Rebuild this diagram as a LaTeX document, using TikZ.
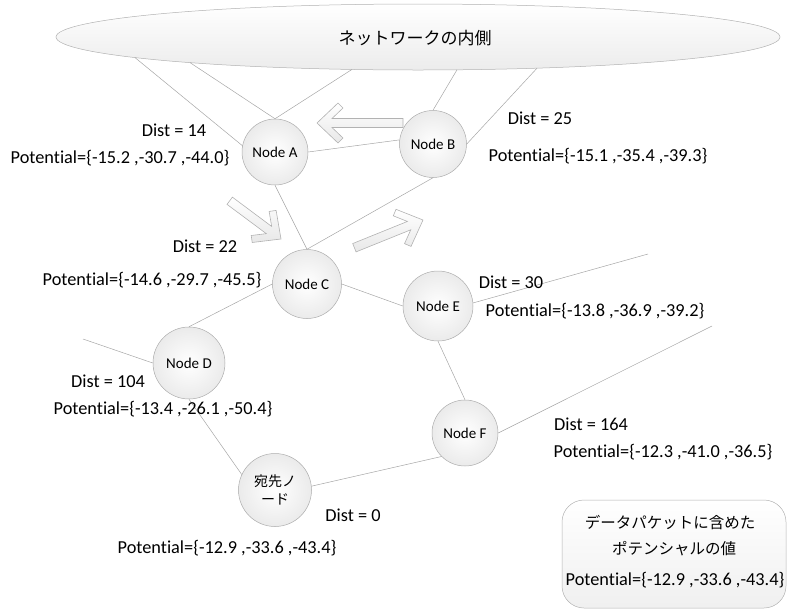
\documentclass[tikz,border=0pt]{standalone}
\usepackage{fontspec}
\setmainfont{Carlito}[Ligatures=NoCommon]
\newfontfamily\jp{Noto Sans CJK JP}
\usetikzlibrary{shapes.geometric}
\begin{document}
\begin{tikzpicture}[x=1pt,y=-1pt,
  nd/.style={circle, draw=gray!65, line width=0.5pt, inner color=white, outer color=gray!16,
    font=\fontsize{15}{17}\selectfont, inner sep=0pt, minimum size=68pt},
  link/.style={draw=gray!70, line width=0.5pt},
  lbl/.style={font=\fontsize{18.3}{21}\selectfont, inner sep=0pt},
  blk/.style={draw=gray!60, line width=0.6pt, top color=white, bottom color=gray!18, line join=miter},
  pics/barrow/.style={code={
    \path[blk] (0,0) -- (-21,20) -- (-26,15) -- (-15,4.5) -- (-#1,4.5) -- (-#1,-4.5)
      -- (-15,-4.5) -- (-26,-15) -- (-21,-20) -- cycle;}}
]
\useasboundingbox (0,0) rectangle (790,611);

% network ellipse
\node[ellipse, draw=gray!60, line width=0.5pt, top color=white, bottom color=gray!15,
  minimum width=724pt, minimum height=66pt, inner sep=0pt] (net) at (418,37) {};
\node[font=\jp\fontsize{17}{20}\selectfont, inner sep=0pt] (nettext) at (415,38) {ネットワークの内側};

\coordinate (e1) at (135,57.6);
\coordinate (e2) at (190,62.6);
\coordinate (e3) at (352,69.4);
\coordinate (e4) at (457,69.8);
\coordinate (e5) at (537,68.2);

% nodes
\node[nd, minimum size=66pt] (A) at (275,152) {Node A};
\node[nd, minimum size=67pt] (B) at (433,144) {Node B};
\node[nd, minimum size=69pt] (C) at (307,284) {Node C};
\node[nd, minimum size=72pt] (D) at (189,363) {Node D};
\node[nd, minimum size=70pt] (E) at (438,306) {Node E};
\node[nd, minimum size=66pt] (F) at (465,433) {Node F};
\node[nd, minimum size=73pt, align=center, font=\jp\fontsize{14}{18}\selectfont] (dest) at (275,490) {宛先ノ\\ード};

\coordinate (dfree) at (83,339);
\coordinate (efree) at (648,254);
\coordinate (ffree) at (712,326);

% links
\draw[link] (e1) -- (A.169);
\draw[link] (e2) -- (A.north);
\draw[link] (e3) -- (A.north);
\draw[link] (e4) -- (B.north);
\draw[link] (e5) -- (B.east);
\draw[link] (A.east) -- (B.173);
\draw[link] (A.south) -- (C.north);
\draw[link] (B.south) -- (C.north);
\draw[link] (C.east) -- (E.west);
\draw[link] (C.west) -- (D.north);
\draw[link] (dfree) -- (D.west);
\draw[link] (D.south) -- (dest.155);
\draw[link] (dest.6) -- (F.225);
\draw[link] (E.south) -- (F.north);
\draw[link] (E.5) -- (efree);
\draw[link] (F.east) -- (ffree);

% block arrows
\pic[rotate=180] at (317,123) {barrow=86};
\pic[rotate=-36.7] at (281,239) {barrow=64};
\pic[rotate=22] at (423,220) {barrow=74};

% labels
\node[lbl] (dA) at (174,130) {Dist = 14};
\node[lbl] (pA) at (120,158) {Potential=\{-15.2 ,-30.7 ,-44.0\}};
\node[lbl] (dB) at (540,118) {Dist = 25};
\node[lbl] (pB) at (598,156) {Potential=\{-15.1 ,-35.4 ,-39.3\}};
\node[lbl] (dC) at (205,246) {Dist = 22};
\node[lbl] (pC) at (152,280) {Potential=\{-14.6 ,-29.7 ,-45.5\}};
\node[lbl] (dE) at (511,282) {Dist = 30};
\node[lbl] (pE) at (595,311) {Potential=\{-13.8 ,-36.9 ,-39.2\}};
\node[lbl] (dD) at (108,381) {Dist = 104};
\node[lbl] (pD) at (163,409) {Potential=\{-13.4 ,-26.1 ,-50.4\}};
\node[lbl] (dF) at (591,424) {Dist = 164};
\node[lbl] (pF) at (663,452) {Potential=\{-12.3 ,-41.0 ,-36.5\}};
\node[lbl] (dG) at (353,515) {Dist = 0};
\node[lbl] (pG) at (227,548) {Potential=\{-12.9 ,-33.6 ,-43.4\}};

% packet box
\node[draw=gray!60, line width=0.5pt, rounded corners=22pt, top color=white, bottom color=gray!12,
  minimum width=224pt, minimum height=108pt, inner sep=0pt] (box) at (674,554) {};
\node[font=\jp\fontsize{15.5}{18}\selectfont, inner sep=0pt] (bt1) at (670,523) {データパケットに含めた};
\node[font=\jp\fontsize{15.5}{18}\selectfont, inner sep=0pt] (bt2) at (674,549) {ポテンシャルの値};
\node[lbl] (bt3) at (675,580) {Potential=\{-12.9 ,-33.6 ,-43.4\}};
\end{tikzpicture}
\end{document}
